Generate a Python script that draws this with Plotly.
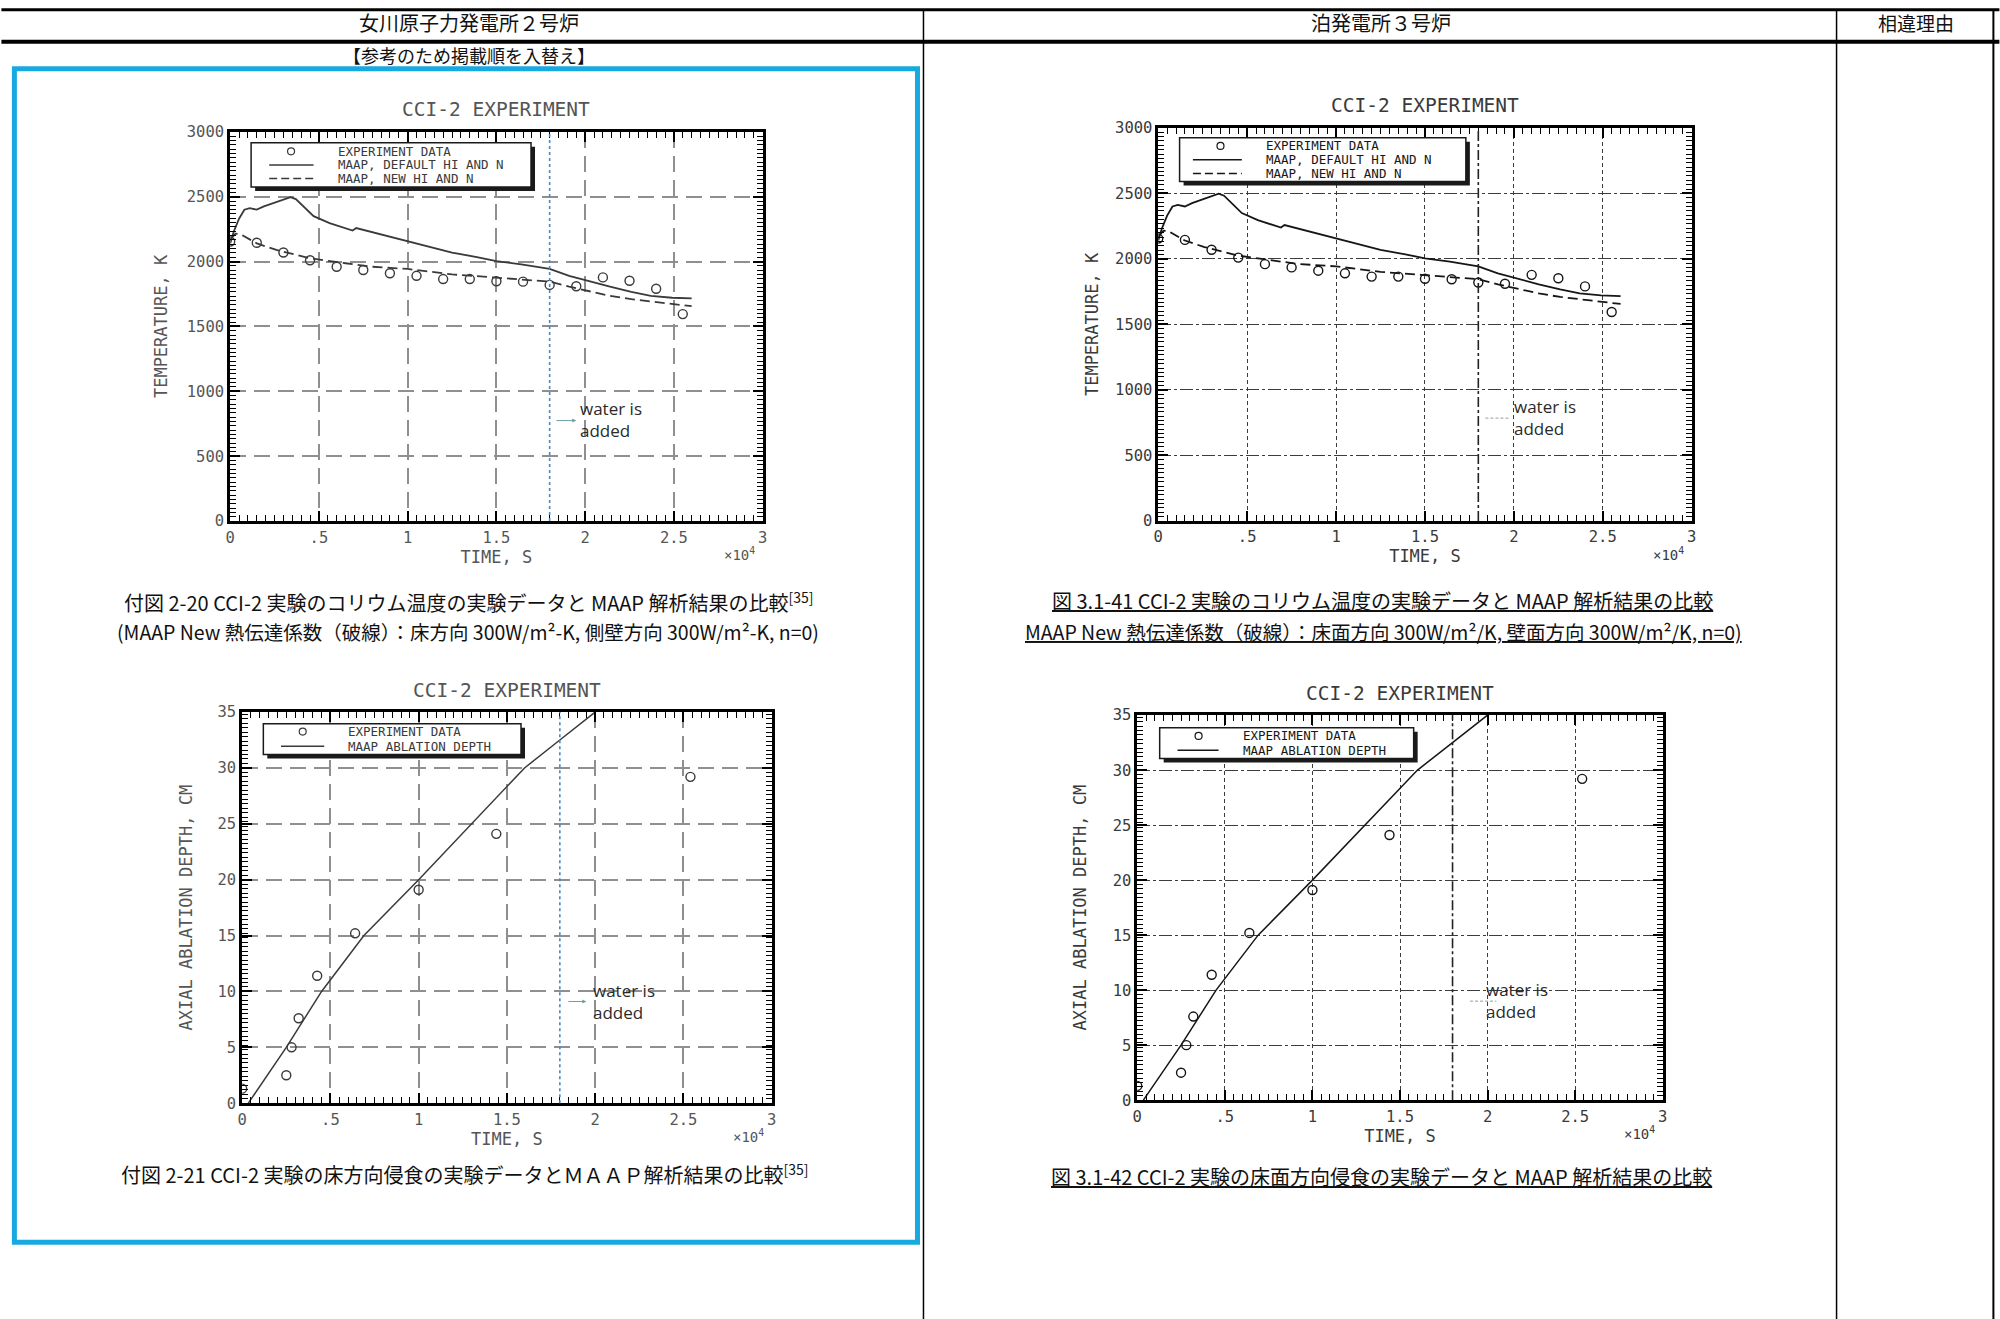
import plotly.graph_objects as go

W, H = 2000, 1319

# the captured picture shows the page slightly shifted and shrunk; positions below are
# given in picture pixels and mapped back to page pixels with this measured correction
SCALE_X, SHIFT_X = 0.996, 3.6
SCALE_Y, SHIFT_Y = 0.986, 8.2

# CCI-2 corium temperature, time in units of 1e4 s
TIME_EXP = [0.0, 0.15, 0.30, 0.45, 0.60, 0.75, 0.90, 1.05, 1.20, 1.35, 1.50, 1.65, 1.80, 1.95, 2.10, 2.25, 2.40, 2.55]
TEMP_EXP = [2155, 2145, 2070, 2010, 1960, 1935, 1910, 1890, 1865, 1865, 1848, 1845, 1820, 1810, 1878, 1852, 1790, 1595]

TIME_DEFAULT = [0.0, 0.02, 0.05, 0.08, 0.11, 0.15, 0.19, 0.26, 0.34, 0.37, 0.42, 0.47, 0.56, 0.69, 0.71,
                0.88, 1.0, 1.11, 1.25, 1.39, 1.5, 1.64, 1.8, 1.91, 2.03, 2.14, 2.26, 2.37, 2.49, 2.6]
TEMP_DEFAULT = [2140, 2230, 2330, 2400, 2412, 2400, 2425, 2456, 2497, 2482, 2412, 2350, 2296, 2239, 2258,
                2198, 2154, 2116, 2069, 2035, 2004, 1979, 1943, 1889, 1845, 1806, 1767, 1736, 1721, 1716]

TIME_NEW = [0.0, 0.03, 0.06, 0.15, 0.26, 0.35, 0.45, 0.65, 0.79, 1.0, 1.11, 1.25, 1.48, 1.62, 1.8,
            1.91, 2.03, 2.14, 2.26, 2.4, 2.49, 2.6]
TEMP_NEW = [2170, 2215, 2210, 2140, 2090, 2059, 2025, 1987, 1961, 1943, 1922, 1901, 1878, 1865, 1845,
            1806, 1767, 1736, 1710, 1690, 1677, 1656]

# CCI-2 axial ablation depth (cm)
TIME_ABL_EXP = [0.0, 0.25, 0.28, 0.32, 0.425, 0.64, 1.0, 1.44, 2.54]
DEPTH_EXP = [1.3, 2.5, 5.0, 7.6, 11.4, 15.2, 19.1, 24.1, 29.2]

TIME_ABL_MAAP = [0.035, 0.25, 0.45, 0.69, 1.0, 1.30, 1.60, 1.80, 2.0]
DEPTH_MAAP = [0, 5, 10, 15, 20, 25, 30, 32.5, 35]

WATER_TIME = 1.8

X_TICKS = [0, 0.5, 1, 1.5, 2, 2.5, 3]
X_TICK_TEXT = ['0', '.5', '1', '1.5', '2', '2.5', '3']
TEMP_TICKS = [0, 500, 1000, 1500, 2000, 2500, 3000]
DEPTH_TICKS = [0, 5, 10, 15, 20, 25, 30, 35]

LEGEND_TEMP = ['EXPERIMENT DATA', 'MAAP, DEFAULT HI AND N', 'MAAP, NEW HI AND N']
LEGEND_ABL = ['EXPERIMENT DATA', 'MAAP ABLATION DEPTH']

MONO = 'DejaVu Sans Mono'
JP = 'Noto Sans CJK JP'

STYLES = {
    'scan': dict(ink='#3a3a3a', text='#555555', grid='#8f8f8f', xdash='16px,8px', ydash='16px,8px',
                 gridwidth=1.5, water='#4a86c8', waterdash='3px,3px', frame=3),
    'print': dict(ink='#161616', text='#3a3a3a', grid='#3c3c3c', xdash='4px,3px', ydash='13px,3px,3px,3px',
                  gridwidth=1, water='#222222', waterdash='10px,3px,3px,3px', frame=2.5),
}


def px(x):
    """Picture pixel x -> paper fraction."""
    return (x - SHIFT_X) / SCALE_X / W


def py(y):
    """Picture pixel y -> paper fraction."""
    return 1 - (y - SHIFT_Y) / SCALE_Y / H


def add_panel(fig, n, box, kind, style, ytitle_standoff, legend_geo, note):
    """Add one CCI-2 panel. box = (left, right, top, bottom) in picture pixels."""
    st = STYLES[style]
    left, right, top, bottom = box
    xa = 'x' if n == 1 else f'x{n}'
    ya = 'y' if n == 1 else f'y{n}'
    if kind == 'temp':
        ymax, yticks, ytitle, ydtick = 3000, TEMP_TICKS, 'TEMPERATURE, K', 100 / 3
    else:
        ymax, yticks, ytitle, ydtick = 35, DEPTH_TICKS, 'AXIAL ABLATION DEPTH, CM', 0.4
    ux = 3 / (right - left)
    uy = ymax / (bottom - top)

    tick_font = dict(family=MONO, size=15.5, color=st['text'])
    common = dict(
        showline=True, linecolor='black', linewidth=st['frame'], mirror='ticks',
        ticks='inside', ticklen=10, tickwidth=1.5, tickcolor='black',
        showgrid=True, gridcolor=st['grid'], gridwidth=st['gridwidth'],
        zeroline=False, tickfont=tick_font, fixedrange=True,
    )
    fig.update_layout({
        ('xaxis' if n == 1 else f'xaxis{n}'): dict(
            common, domain=[px(left), px(right)], anchor=ya, range=[0, 3],
            tickvals=X_TICKS, ticktext=X_TICK_TEXT, griddash=st['xdash'],
            minor=dict(ticks='inside', dtick=0.05, ticklen=6, tickwidth=1, tickcolor='black'),
            title=dict(text='TIME, S', font=dict(family=MONO, size=17, color=st['text']), standoff=4),
        ),
        ('yaxis' if n == 1 else f'yaxis{n}'): dict(
            common, domain=[py(bottom), py(top)], anchor=xa, range=[0, ymax],
            tickvals=yticks, griddash=st['ydash'],
            minor=dict(ticks='inside', dtick=ydtick, ticklen=6, tickwidth=1, tickcolor='black'),
            title=dict(text=ytitle, font=dict(family=MONO, size=17, color=st['text']),
                       standoff=ytitle_standoff),
        ),
    })

    ink = st['ink']
    marker = dict(symbol='circle-open', size=9, color=ink, line=dict(width=1.4, color=ink))
    if kind == 'temp':
        fig.add_trace(go.Scatter(x=TIME_EXP, y=TEMP_EXP, mode='markers', marker=marker,
                                 xaxis=xa, yaxis=ya, name=LEGEND_TEMP[0]))
        fig.add_trace(go.Scatter(x=TIME_DEFAULT, y=TEMP_DEFAULT, mode='lines',
                                 line=dict(color=ink, width=1.8), xaxis=xa, yaxis=ya,
                                 name=LEGEND_TEMP[1]))
        fig.add_trace(go.Scatter(x=TIME_NEW, y=TEMP_NEW, mode='lines',
                                 line=dict(color=ink, width=1.8, dash='10px,5px'), xaxis=xa, yaxis=ya,
                                 name=LEGEND_TEMP[2]))
        labels = LEGEND_TEMP
    else:
        fig.add_trace(go.Scatter(x=TIME_ABL_EXP, y=DEPTH_EXP, mode='markers', marker=marker,
                                 xaxis=xa, yaxis=ya, name=LEGEND_ABL[0]))
        fig.add_trace(go.Scatter(x=TIME_ABL_MAAP, y=DEPTH_MAAP, mode='lines',
                                 line=dict(color=ink, width=1.5), xaxis=xa, yaxis=ya,
                                 name=LEGEND_ABL[1]))
        labels = LEGEND_ABL

    # water injection marker line
    fig.add_shape(type='line', xref=xa, yref=f'{ya} domain', x0=WATER_TIME, x1=WATER_TIME, y0=0, y1=1,
                  line=dict(color=st['water'], width=1.6, dash=st['waterdash']))

    # legend box with drop shadow, drawn in data units
    lx0, lx1, ly0, ly1, sym_x, line_x0, line_x1, text_x, rows = legend_geo
    fig.add_shape(type='rect', xref=xa, yref=ya, x0=lx0 + 4 * ux, x1=lx1 + 4 * ux,
                  y0=ly0 - 4 * uy, y1=ly1 - 4 * uy, fillcolor='#1a1a1a', line=dict(width=0))
    fig.add_shape(type='rect', xref=xa, yref=ya, x0=lx0, x1=lx1, y0=ly0, y1=ly1,
                  fillcolor='white', line=dict(color='#1a1a1a', width=1.5))
    for i, (label, ry) in enumerate(zip(labels, rows)):
        if i == 0:
            fig.add_shape(type='circle', xref=xa, yref=ya, xsizemode='pixel', ysizemode='pixel',
                          xanchor=sym_x, yanchor=ry, x0=-3.5, x1=3.5, y0=-3.5, y1=3.5,
                          line=dict(color=ink, width=1.2))
        else:
            fig.add_shape(type='line', xref=xa, yref=ya, x0=line_x0, x1=line_x1, y0=ry, y1=ry,
                          line=dict(color=ink, width=1.5, dash='solid' if i == 1 else '8px,4px'))
        fig.add_annotation(xref=xa, yref=ya, x=text_x, y=ry, text=label, showarrow=False,
                           xanchor='left', yanchor='middle',
                           font=dict(family=MONO, size=12.5, color=ink))

    # x10^4 multiplier
    fig.add_annotation(xref=f'{xa} domain', yref=f'{ya} domain', x=0.99, y=-33 / (bottom - top),
                       text='×10<sup>4</sup>', showarrow=False, xanchor='right', yanchor='middle',
                       font=dict(family=MONO, size=14, color=st['text']))

    # "water is added" note
    nx, ny, ax0, ax1, ay = note
    fig.add_annotation(xref=xa, yref=ya, x=nx, y=ny, text='water is<br>added', showarrow=False,
                       xanchor='left', yanchor='middle', align='left',
                       font=dict(family='Open Sans', size=17, color='#2a2a2a'))
    if style == 'scan':
        fig.add_annotation(xref=xa, yref=ya, x=ax1, y=ay, ax=ax0, ay=ay, axref=xa, ayref=ya, text='',
                           showarrow=True, arrowhead=2, arrowsize=0.8, arrowwidth=1,
                           arrowcolor='#6f9e9e')
    else:
        fig.add_shape(type='line', xref=xa, yref=ya, x0=ax0, x1=ax1, y0=ay, y1=ay,
                      line=dict(color='#9a9a9a', width=1, dash='3px,2px'))

    # chart title
    fig.add_annotation(xref=f'{xa} domain', yref=f'{ya} domain', x=0.5, y=1 + 22 / (bottom - top),
                       text='CCI-2 EXPERIMENT', showarrow=False, xanchor='center', yanchor='middle',
                       font=dict(family=MONO, size=19.5, color=st['text']))


fig = go.Figure()

add_panel(fig, 1, (229, 762, 131, 520), 'temp', 'scan', 15,
          (0.118, 1.695, 2575, 2915, 0.343, 0.22, 0.47, 0.595, [2850, 2745, 2640]),
          (1.96, 780, 1.83, 1.95, 774))
add_panel(fig, 2, (1158, 1692, 127, 520), 'temp', 'print', 13,
          (0.12, 1.73, 2590, 2924, 0.35, 0.195, 0.47, 0.595, [2862, 2757, 2652]),
          (1.99, 790, 1.84, 1.97, 785))
add_panel(fig, 3, (241, 771, 711, 1102), 'abl', 'scan', 21,
          (0.12, 1.58, 31.2, 33.95, 0.343, 0.22, 0.465, 0.59, [33.25, 31.95]),
          (1.975, 9.1, 1.84, 1.95, 9.1))
add_panel(fig, 4, (1137, 1663, 714, 1099), 'abl', 'print', 22,
          (0.128, 1.578, 31.05, 33.85, 0.35, 0.23, 0.464, 0.59, [33.1, 31.8]),
          (1.98, 9.05, 1.9, 2.05, 9.0))

# table frame (picture pixels)
table_lines = [
    (0, 9, W, 9, 3), (0, 41, W, 41, 4),
    (923, 9, 923, H + 20, 1.5), (1837, 9, 1837, H + 20, 1.5),
    (1994, 9, 1994, H + 20, 2),
]
for x0, y0, x1, y1, w in table_lines:
    fig.add_shape(type='line', xref='paper', yref='paper', x0=px(x0), y0=py(y0), x1=px(x1), y1=py(y1),
                  line=dict(color='black', width=w))

# highlighted block on the left column
fig.add_shape(type='rect', xref='paper', yref='paper', x0=px(13), x1=px(917), y0=py(1241), y1=py(68),
              line=dict(color='#19a9e1', width=5), layer='below')

texts = [
    (468, 22, '女川原子力発電所２号炉', 20),
    (1381, 22, '泊発電所３号炉', 20),
    (1917, 22, '相違理由', 19),
    (468, 54, '【参考のため掲載順を入替え】', 18),
    (468, 601, '付図 2-20 CCI-2 実験のコリウム温度の実験データと MAAP 解析結果の比較<sup>[35]</sup>', 20),
    (467, 630, '(MAAP New 熱伝達係数（破線）：床方向 300W/m²-K, 側壁方向 300W/m²-K, n=0)', 19.5),
    (1382, 599, '<u>図 3.1-41 CCI-2 実験のコリウム温度の実験データと MAAP 解析結果の比較</u>', 20),
    (1383, 630, '<u>MAAP New 熱伝達係数（破線）：床面方向 300W/m²/K, 壁面方向 300W/m²/K, n=0)</u>', 19.5),
    (464, 1173, '付図 2-21 CCI-2 実験の床方向侵食の実験データとＭＡＡＰ解析結果の比較<sup>[35]</sup>', 20),
    (1381, 1175, '<u>図 3.1-42 CCI-2 実験の床面方向侵食の実験データと MAAP 解析結果の比較</u>', 20),
]
for x, y, t, s in texts:
    fig.add_annotation(xref='paper', yref='paper', x=px(x), y=py(y), text=t, showarrow=False,
                       xanchor='center', yanchor='middle', font=dict(family=JP, size=s, color='#111111'))

fig.update_layout(
    width=W, height=H,
    margin=dict(l=0, r=0, t=0, b=0),
    paper_bgcolor='white', plot_bgcolor='white',
    showlegend=False,
)

# make the page exactly the figure size
pin = ("var s=document.createElement('style');"
       "s.textContent='html,body{margin:0 !important;padding:0 !important;width:2000px;height:1319px;"
       "overflow:hidden;}';document.head.appendChild(s);"
       "var d=document.getElementById('{plot_id}');d.style.position='absolute';"
       "d.style.left='0px';d.style.top='0px';")
fig.write_html("out.html", post_script=pin, config={'displayModeBar': False})
